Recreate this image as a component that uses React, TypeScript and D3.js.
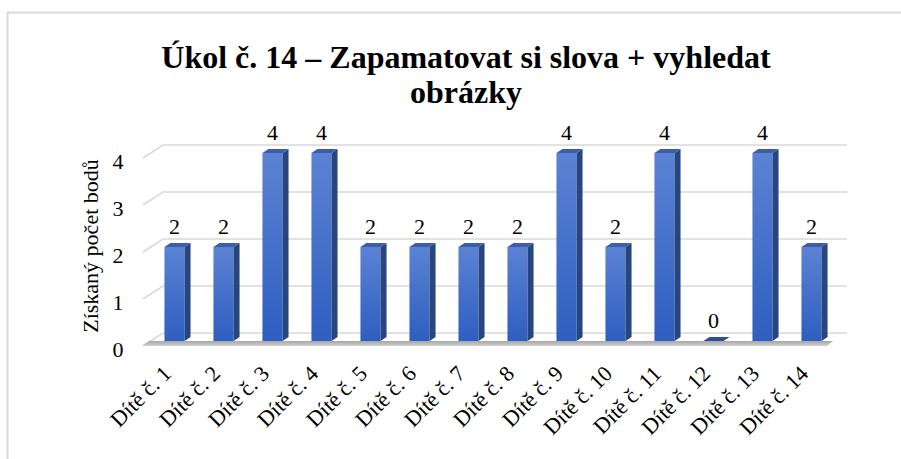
import React from "react";
import * as d3 from "d3";

const title1 = "Úkol č. 14 – Zapamatovat si slova + vyhledat";
const title2 = "obrázky";
const yAxisTitle = "Získaný počet bodů";
const categories = [
  "Dítě č. 1", "Dítě č. 2", "Dítě č. 3", "Dítě č. 4", "Dítě č. 5", "Dítě č. 6", "Dítě č. 7",
  "Dítě č. 8", "Dítě č. 9", "Dítě č. 10", "Dítě č. 11", "Dítě č. 12", "Dítě č. 13", "Dítě č. 14",
];
const values = [2, 2, 4, 4, 2, 2, 2, 2, 4, 2, 4, 0, 4, 2];
const yTicks = [0, 1, 2, 3, 4];

const W = 901;
const H = 459;
const FONT = "Liberation Serif";

export default function App() {
  const x = d3.scaleBand<string>().domain(categories).range([150, 836]).paddingInner(0.59).paddingOuter(0.295);
  const y = d3.scaleLinear().domain([0, 4]).range([341, 153]);
  const bw = x.bandwidth();
  const ddx = 6;
  const ddy = -4;
  const backOff = -8;
  const wallX0 = 163;
  const wallX1 = 847;
  const slantDx = 20;
  const slantDy = 13;
  const txt = (size: number, bold = false): React.CSSProperties => ({
    fontFamily: FONT,
    fontSize: size,
    fontWeight: bold ? "bold" : "normal",
    fill: "#000",
  });

  return (
    <svg width={W} height={H} style={{ position: "absolute", left: 0, top: 0, display: "block" }}>
      <defs>
        <linearGradient id="barFront" x1="0" y1="0" x2="0" y2="1">
          <stop offset="0" stopColor="#5b82d3" />
          <stop offset="1" stopColor="#2e5ec0" />
        </linearGradient>
        <linearGradient id="floorFront" x1="0" y1="0" x2="0" y2="1">
          <stop offset="0" stopColor="#a6a6a6" />
          <stop offset="1" stopColor="#d0d0d0" />
        </linearGradient>
      </defs>
      <rect x={0} y={0} width={W} height={H} fill="#ffffff" />
      <path d={`M7.5,${H} L7.5,12.5 L${W},12.5`} fill="none" stroke="#d9d9d9" strokeWidth={2} />

      <text x={466} y={68} textAnchor="middle" style={txt(32, true)}>
        {title1}
      </text>
      <text x={466} y={103} textAnchor="middle" style={txt(32, true)}>
        {title2}
      </text>

      {yTicks.map((t) => {
        const yb = y(t) + backOff;
        return (
          <path
            key={"g" + t}
            d={`M${wallX0 - slantDx},${yb + slantDy} L${wallX0},${yb} L${wallX1},${yb}`}
            fill="none"
            stroke="#d9d9d9"
            strokeWidth={1.5}
          />
        );
      })}

      <path
        d={`M${wallX0 - slantDx},${y(0) + 4} L${wallX0 - slantDx + 6},${y(0)} L${wallX1 - 14},${y(0)} L${wallX1 - 20},${y(0) + 5} L${wallX0 - slantDx},${y(0) + 5} Z`}
        fill="url(#floorFront)"
      />

      {yTicks.map((t) => (
        <text key={"t" + t} x={118} y={y(t) + backOff + 24} textAnchor="middle" style={txt(22)}>
          {t}
        </text>
      ))}

      <text transform={`translate(98,246) rotate(-90)`} textAnchor="middle" style={txt(22)}>
        {yAxisTitle}
      </text>

      {categories.map((c, i) => {
        const x0 = x(c)!;
        const v = values[i];
        const yt = y(v);
        const yb = y(0);
        const top = `M${x0},${yt} L${x0 + bw},${yt} L${x0 + bw + ddx},${yt + ddy} L${x0 + ddx},${yt + ddy} Z`;
        if (v === 0) {
          return <path key={c} d={top} fill="#2f4f8f" />;
        }
        return (
          <g key={c}>
            <rect x={x0} y={yt} width={bw} height={yb - yt} fill="url(#barFront)" />
            <path
              d={`M${x0 + bw},${yt} L${x0 + bw + ddx},${yt + ddy} L${x0 + bw + ddx},${yb + ddy} L${x0 + bw},${yb} Z`}
              fill="#27467f"
            />
            <path d={top} fill="#3d5ea6" />
          </g>
        );
      })}

      {categories.map((c, i) => (
        <text key={"l" + c} x={x(c)! + bw / 2} y={y(values[i]) - 13.5} textAnchor="middle" style={txt(22)}>
          {values[i]}
        </text>
      ))}

      {categories.map((c) => (
        <text
          key={"x" + c}
          transform={`translate(${x(c)! + bw / 2 - 2},375) rotate(-45)`}
          textAnchor="end"
          style={txt(22)}
        >
          {c}
        </text>
      ))}
    </svg>
  );
}
